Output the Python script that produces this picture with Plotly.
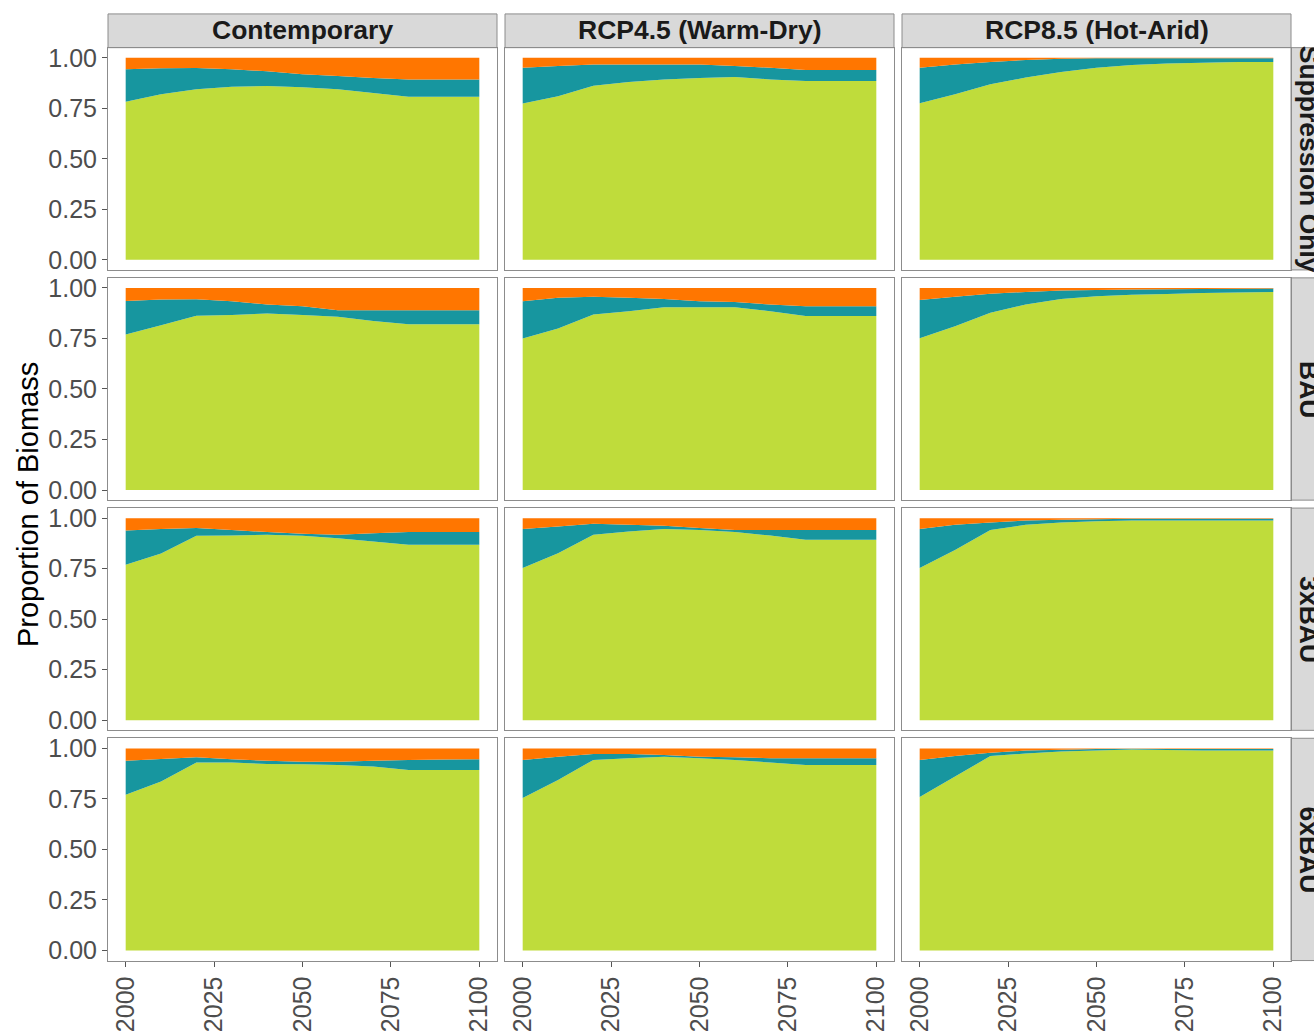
import plotly.graph_objects as go

# Simulation years and facet labels
years = [2000, 2010, 2020, 2030, 2040, 2050, 2060, 2070, 2080, 2090, 2100]
climates = ["Contemporary", "RCP4.5 (Warm-Dry)", "RCP8.5 (Hot-Arid)"]
treatments = ["Suppression Only", "BAU", "3xBAU", "6xBAU"]
x_ticks = [2000, 2025, 2050, 2075, 2100]
y_ticks = [0.0, 0.25, 0.5, 0.75, 1.0]
y_tick_text = ["0.00", "0.25", "0.50", "0.75", "1.00"]

# Proportion of biomass per group; each list holds one series per climate column
green_suppression = [
    [0.782, 0.820, 0.844, 0.857, 0.860, 0.854, 0.844, 0.825, 0.807, 0.807, 0.807],
    [0.774, 0.810, 0.861, 0.880, 0.893, 0.900, 0.905, 0.893, 0.885, 0.885, 0.885],
    [0.775, 0.820, 0.869, 0.902, 0.930, 0.951, 0.964, 0.972, 0.975, 0.979, 0.979],
]
teal_suppression = [
    [0.161, 0.128, 0.105, 0.086, 0.073, 0.064, 0.066, 0.075, 0.086, 0.086, 0.086],
    [0.177, 0.149, 0.106, 0.087, 0.074, 0.067, 0.054, 0.058, 0.054, 0.054, 0.054],
    [0.176, 0.147, 0.110, 0.087, 0.065, 0.046, 0.034, 0.026, 0.023, 0.019, 0.019],
]
orange_suppression = [
    [0.057, 0.052, 0.051, 0.057, 0.067, 0.082, 0.090, 0.100, 0.107, 0.107, 0.107],
    [0.049, 0.041, 0.033, 0.033, 0.033, 0.033, 0.041, 0.049, 0.061, 0.061, 0.061],
    [0.049, 0.033, 0.021, 0.011, 0.005, 0.003, 0.002, 0.002, 0.002, 0.002, 0.002],
]

green_bau = [
    [0.770, 0.816, 0.862, 0.866, 0.874, 0.866, 0.857, 0.836, 0.820, 0.820, 0.820],
    [0.750, 0.800, 0.869, 0.885, 0.905, 0.905, 0.905, 0.885, 0.861, 0.861, 0.861],
    [0.751, 0.811, 0.877, 0.918, 0.946, 0.959, 0.967, 0.970, 0.975, 0.978, 0.980],
]
teal_bau = [
    [0.166, 0.127, 0.082, 0.068, 0.044, 0.044, 0.033, 0.054, 0.070, 0.070, 0.070],
    [0.184, 0.151, 0.087, 0.066, 0.041, 0.029, 0.025, 0.033, 0.049, 0.049, 0.049],
    [0.189, 0.145, 0.095, 0.062, 0.041, 0.031, 0.025, 0.024, 0.020, 0.018, 0.017],
]
orange_bau = [
    [0.064, 0.057, 0.056, 0.066, 0.082, 0.090, 0.110, 0.110, 0.110, 0.110, 0.110],
    [0.066, 0.049, 0.044, 0.049, 0.054, 0.066, 0.070, 0.082, 0.090, 0.090, 0.090],
    [0.060, 0.044, 0.028, 0.020, 0.013, 0.010, 0.008, 0.006, 0.005, 0.004, 0.003],
]

green_3xbau = [
    [0.770, 0.825, 0.913, 0.914, 0.918, 0.913, 0.901, 0.885, 0.868, 0.868, 0.868],
    [0.753, 0.827, 0.918, 0.934, 0.946, 0.942, 0.931, 0.914, 0.893, 0.893, 0.893],
    [0.753, 0.843, 0.942, 0.967, 0.979, 0.985, 0.988, 0.988, 0.988, 0.988, 0.988],
]
teal_3xbau = [
    [0.169, 0.121, 0.038, 0.028, 0.013, 0.010, 0.017, 0.041, 0.063, 0.063, 0.063],
    [0.193, 0.132, 0.054, 0.033, 0.016, 0.009, 0.011, 0.028, 0.049, 0.049, 0.049],
    [0.193, 0.124, 0.037, 0.021, 0.013, 0.010, 0.009, 0.009, 0.009, 0.009, 0.009],
]
orange_3xbau = [
    [0.061, 0.054, 0.049, 0.058, 0.069, 0.077, 0.082, 0.074, 0.069, 0.069, 0.069],
    [0.054, 0.041, 0.028, 0.033, 0.038, 0.049, 0.058, 0.058, 0.058, 0.058, 0.058],
    [0.054, 0.033, 0.021, 0.012, 0.008, 0.005, 0.003, 0.003, 0.003, 0.003, 0.003],
]

green_6xbau = [
    [0.770, 0.836, 0.930, 0.930, 0.923, 0.921, 0.918, 0.910, 0.893, 0.893, 0.893],
    [0.754, 0.844, 0.943, 0.951, 0.959, 0.951, 0.943, 0.930, 0.918, 0.918, 0.918],
    [0.759, 0.861, 0.962, 0.975, 0.984, 0.989, 0.995, 0.992, 0.989, 0.989, 0.989],
]
teal_6xbau = [
    [0.169, 0.112, 0.026, 0.016, 0.016, 0.013, 0.016, 0.029, 0.050, 0.052, 0.053],
    [0.189, 0.115, 0.029, 0.021, 0.008, 0.008, 0.013, 0.021, 0.033, 0.033, 0.033],
    [0.184, 0.101, 0.017, 0.014, 0.009, 0.008, 0.003, 0.005, 0.008, 0.008, 0.008],
]
orange_6xbau = [
    [0.061, 0.052, 0.044, 0.054, 0.061, 0.066, 0.066, 0.061, 0.057, 0.055, 0.054],
    [0.057, 0.041, 0.028, 0.028, 0.033, 0.041, 0.044, 0.049, 0.049, 0.049, 0.049],
    [0.057, 0.038, 0.021, 0.011, 0.007, 0.003, 0.002, 0.003, 0.003, 0.003, 0.003],
]

rows_green = [green_suppression, green_bau, green_3xbau, green_6xbau]
rows_teal = [teal_suppression, teal_bau, teal_3xbau, teal_6xbau]
rows_orange = [orange_suppression, orange_bau, orange_3xbau, orange_6xbau]

GREEN = "#BFDC3B"
TEAL = "#17969F"
ORANGE = "#FF7600"
BORDER = "#8C8C8C"
STRIP_FILL = "#D9D9D9"
TICK_GREY = "#4D4D4D"
FONT = "Liberation Sans, Arial, sans-serif"

W, H = 1314, 1035
col_left = [108, 505, 902]
panel_w = 389
row_top = [44, 276, 508, 740]
panel_h = 224


def px_x(v):
    return v / W


def px_y(v):
    return 1 - v / H


fig = go.Figure()
layout_axes = {}

for r in range(4):
    for c in range(3):
        n = r * 3 + c + 1
        xa = "x" if n == 1 else f"x{n}"
        ya = "y" if n == 1 else f"y{n}"
        group = f"stack{n}"
        for name, vals, color in (
            ("Group 1", rows_green[r][c], GREEN),
            ("Group 2", rows_teal[r][c], TEAL),
            ("Group 3", rows_orange[r][c], ORANGE),
        ):
            fig.add_trace(go.Scatter(
                x=years, y=vals, xaxis=xa, yaxis=ya,
                stackgroup=group, mode="none", fillcolor=color,
                line=dict(width=0), name=name, showlegend=False,
            ))

        bottom_row = r == 3
        left_col = c == 0
        xkey = "xaxis" if n == 1 else f"xaxis{n}"
        ykey = "yaxis" if n == 1 else f"yaxis{n}"
        layout_axes[xkey] = dict(
            domain=[px_x(col_left[c]), px_x(col_left[c] + panel_w)],
            anchor=ya, range=[1995, 2105],
            showgrid=False, zeroline=False,
            showline=True, mirror=True, linecolor=BORDER, linewidth=1,
            tickvals=x_ticks, ticks="outside" if bottom_row else "",
            ticklen=5, tickcolor="#555555",
            showticklabels=bottom_row, tickangle=-90,
            tickfont=dict(family=FONT, size=25, color=TICK_GREY),
        )
        layout_axes[ykey] = dict(
            domain=[px_y(row_top[r] + panel_h), px_y(row_top[r])],
            anchor=xa, range=[-0.05, 1.05],
            showgrid=False, zeroline=False,
            showline=True, mirror=True, linecolor=BORDER, linewidth=1,
            tickvals=y_ticks, ticktext=y_tick_text,
            ticks="outside" if left_col else "",
            ticklen=5, tickcolor="#555555",
            showticklabels=left_col,
            tickfont=dict(family=FONT, size=25, color=TICK_GREY),
        )

shapes = []
annotations = []

# Column strips along the top
for c, label in enumerate(climates):
    x0, x1 = col_left[c], col_left[c] + panel_w
    shapes.append(dict(
        type="rect", xref="paper", yref="paper",
        x0=px_x(x0), x1=px_x(x1), y0=px_y(44), y1=px_y(10),
        fillcolor=STRIP_FILL, line=dict(color=BORDER, width=1), layer="below",
    ))
    annotations.append(dict(
        text=f"<b>{label}</b>", xref="paper", yref="paper",
        x=px_x((x0 + x1) / 2), y=px_y(26), showarrow=False,
        xanchor="center", yanchor="middle",
        font=dict(family=FONT, size=26.5, color="#1A1A1A"),
    ))

# Row strips along the right edge
for r, label in enumerate(treatments):
    y0, y1 = row_top[r], row_top[r] + panel_h
    shapes.append(dict(
        type="rect", xref="paper", yref="paper",
        x0=px_x(1291), x1=px_x(1326), y0=px_y(y1), y1=px_y(y0),
        fillcolor=STRIP_FILL, line=dict(color=BORDER, width=1), layer="below",
    ))
    annotations.append(dict(
        text=f"<b>{label}</b>", xref="paper", yref="paper",
        x=px_x(1309), y=px_y((y0 + y1) / 2), showarrow=False,
        xanchor="center", yanchor="middle", textangle=90,
        font=dict(family=FONT, size=26.5, color="#1A1A1A"),
    ))

# Shared y-axis title
annotations.append(dict(
    text="Proportion of Biomass", xref="paper", yref="paper",
    x=px_x(28), y=px_y(505), showarrow=False,
    xanchor="center", yanchor="middle", textangle=-90,
    font=dict(family=FONT, size=29, color="#000000"),
))

fig.update_layout(
    width=W, height=H,
    margin=dict(l=0, r=0, t=0, b=0),
    paper_bgcolor="white", plot_bgcolor="white",
    shapes=shapes, annotations=annotations,
    showlegend=False,
    **layout_axes,
)

fig.write_html("out.html")
